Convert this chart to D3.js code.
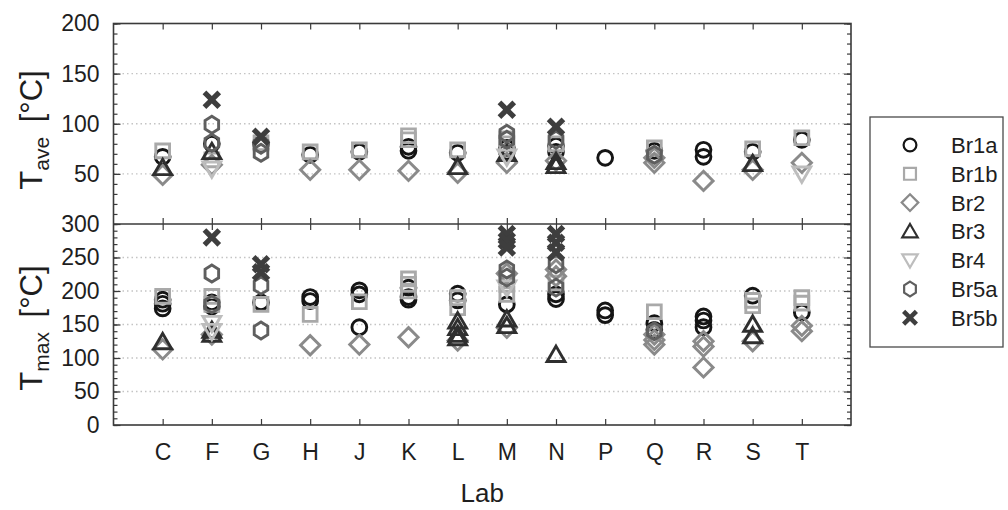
<!DOCTYPE html>
<html><head><meta charset="utf-8">
<script src="https://cdn.jsdelivr.net/npm/d3@7"></script>
<style>body{margin:0;background:#fff} text{font-family:"Liberation Sans",Arial,sans-serif}</style>
</head><body><svg id="c" width="1008" height="510"></svg>
<script>
// ---------- data ----------
const labs = ["C","F","G","H","J","K","L","M","N","P","Q","R","S","T"];
const seriesNames = ["Br1a","Br1b","Br2","Br3","Br4","Br5a","Br5b"];
const aveTicks = [50,100,150,200];
const maxTicks = [0,50,100,150,200,250,300];

// T_ave (top panel), one list of replicates per lab
const br1aAve = [[67],[80],[80],[69],[72],[73,77],[71],[76,72],[78,72],[66],[73],[74,67],[72],[84]];
const br1bAve = [[73],[64],[81],[72],[74],[84,88],[74],[85,80],[80],[],[76],[],[75],[86]];
const br2Ave  = [[49],[59],[],[54],[54],[53],[51],[61],[63],[],[66,61],[43],[54],[61]];
const br3Ave  = [[56],[72],[],[],[],[],[57],[70],[62,58],[],[],[],[60],[]];
const br4Ave  = [[],[55],[],[],[],[],[],[67],[],[],[],[],[],[50]];
const br5aAve = [[],[99,81],[79,71],[],[],[],[],[90,84],[84],[],[69],[],[],[]];
const br5bAve = [[],[124],[87],[],[],[],[],[114],[97],[],[],[],[],[]];

// T_max (bottom panel)
const br1aMax = [[187,181,174],[183,177],[183],[191,185],[201,195,146],[205,191,187],[196,186],[180],[195,188],[171,164],[152,142],[162,156,146],[193],[168]];
const br1bMax = [[192],[192,180],[180],[165],[184],[218,210,200],[190,175],[210,195],[212],[],[169],[],[186,178],[190,182]];
const br2Max  = [[113],[135],[],[119],[120],[131],[126],[226,145],[232,222],[],[135,127,120],[125,117,86],[125],[148,140]];
const br3Max  = [[124],[141,135],[],[],[],[],[155,145,135,130],[158,148],[105],[],[],[],[150,133],[]];
const br4Max  = [[],[152,140],[],[],[],[],[],[205],[],[],[],[],[],[]];
const br5aMax = [[],[226,180],[208,141],[],[],[],[],[232,220],[240,205],[],[140],[],[],[]];
const br5bMax = [[],[280],[240,228],[],[],[],[],[285,275,265],[285,272,258],[],[],[],[],[]];

const aveData = [br1aAve,br1bAve,br2Ave,br3Ave,br4Ave,br5aAve,br5bAve];
const maxData = [br1aMax,br1bMax,br2Max,br3Max,br4Max,br5aMax,br5bMax];

// ---------- styles ----------
const shapes = ["circle","square","diamond","triUp","triDown","hexagon","x"];
const colors = ["#151515","#a9a9a9","#8a8a8a","#2f2f2f","#bdbdbd","#5f5f5f","#3e3e3e"];

function makeType(kind){
  return {draw(ctx, r){
    if(kind==="circle"){ ctx.moveTo(r,0); ctx.arc(0,0,r,0,2*Math.PI); }
    else if(kind==="square"){ const h=r*0.93; ctx.moveTo(-h,-h); ctx.lineTo(h,-h); ctx.lineTo(h,h); ctx.lineTo(-h,h); ctx.closePath(); }
    else if(kind==="diamond"){ const h=r*1.3; ctx.moveTo(0,-h); ctx.lineTo(h,0); ctx.lineTo(0,h); ctx.lineTo(-h,0); ctx.closePath(); }
    else if(kind==="triUp"){ const h=r*1.15; ctx.moveTo(0,-h); ctx.lineTo(h*1.05,h*0.8); ctx.lineTo(-h*1.05,h*0.8); ctx.closePath(); }
    else if(kind==="triDown"){ const h=r*1.15; ctx.moveTo(0,h); ctx.lineTo(h*1.05,-h*0.8); ctx.lineTo(-h*1.05,-h*0.8); ctx.closePath(); }
    else if(kind==="hexagon"){ const h=r*1.15; for(let k=0;k<6;k++){const a=-Math.PI/2+k*Math.PI/3; const px=h*Math.cos(a)*0.92, py=h*Math.sin(a); if(k===0) ctx.moveTo(px,py); else ctx.lineTo(px,py);} ctx.closePath(); }
    else if(kind==="x"){ const h=r*1.25, w=r*0.5; // filled X
      const pts=[[0,-w],[h-w,-h],[h,-h+w],[w,0],[h,h-w],[h-w,h],[0,w],[-h+w,h],[-h,h-w],[-w,0],[-h,-h+w],[-h+w,-h]];
      pts.forEach((p,k)=> k? ctx.lineTo(p[0],p[1]) : ctx.moveTo(p[0],p[1])); ctx.closePath(); }
  }};
}
const types = shapes.map(makeType);

// ---------- layout ----------
const svg = d3.select("#c");
svg.append("rect").attr("width",1008).attr("height",510).attr("fill","#fff");
const L=113.5, R=851, T0=23.5, MID=224, B=425;
const x = d3.scaleLinear().domain([0,15]).range([L,R]);
const yTop = d3.scaleLinear().domain([0,200]).range([MID,T0]);
const yBot = d3.scaleLinear().domain([0,300]).range([B,MID]);
const axisColor="#3a3a3a";
const fontSize=23;

// grid lines
function grid(y, vals){
  svg.append("g").selectAll("line").data(vals).join("line")
    .attr("x1",L).attr("x2",R).attr("y1",d=>y(d)).attr("y2",d=>y(d))
    .attr("stroke","#c4c4c4").attr("stroke-width",1.3).attr("stroke-dasharray","1.5,3");
}
grid(yTop,[50,100,150]);
grid(yBot,[50,100,150,200,250]);

// points
function drawPanel(y, data){
  data.forEach((ser, s)=>{
    const pts=[];
    ser.forEach((vals,i)=>vals.forEach(v=>pts.push({i:i+1, v})));
    svg.append("g").selectAll("path").data(pts).join("path")
      .attr("transform",d=>`translate(${x(d.i)},${y(d.v)})`)
      .attr("d", d3.symbol().type(types[s]).size(7.4))
      .attr("fill", shapes[s]==="x" ? colors[s] : "none")
      .attr("stroke", shapes[s]==="x" ? "none" : colors[s])
      .attr("stroke-width", 2.9);
  });
}
drawPanel(yTop, aveData);
drawPanel(yBot, maxData);

// axes helpers
function styleAxis(g){
  g.select(".domain").remove();
  g.selectAll("line").attr("stroke",axisColor).attr("stroke-width",1.2);
  g.selectAll("text").attr("fill","#1e1e1e").attr("font-size",fontSize).attr("font-family","Liberation Sans, Arial, sans-serif");
}
// Y minor ticks, left & right
[[yTop,d3.range(0,201,10)],[yBot,d3.range(0,301,10)]].forEach(([y,vals])=>{
  svg.append("g").attr("transform",`translate(${L},0)`).call(d3.axisLeft(y).tickValues(vals).tickFormat("").tickSize(-4)).call(styleAxis);
  svg.append("g").attr("transform",`translate(${R},0)`).call(d3.axisRight(y).tickValues(vals).tickFormat("").tickSize(-4)).call(styleAxis);
});
// Y major ticks with labels
svg.append("g").attr("transform",`translate(${L},0)`).call(d3.axisLeft(yTop).tickValues(aveTicks).tickSize(-7).tickPadding(14)).call(styleAxis);
svg.append("g").attr("transform",`translate(${L},0)`).call(d3.axisLeft(yBot).tickValues(maxTicks).tickSize(-7).tickPadding(14)).call(styleAxis);
svg.append("g").attr("transform",`translate(${R},0)`).call(d3.axisRight(yTop).tickValues(aveTicks).tickFormat("").tickSize(-7)).call(styleAxis);
svg.append("g").attr("transform",`translate(${R},0)`).call(d3.axisRight(yBot).tickValues(maxTicks).tickFormat("").tickSize(-7)).call(styleAxis);

// X ticks
const xi = d3.range(1,15);
svg.append("g").attr("transform",`translate(0,${B})`).call(d3.axisBottom(x).tickValues(xi).tickFormat(i=>labs[i-1]).tickSize(-6).tickPadding(19)).call(styleAxis);
svg.append("g").attr("transform",`translate(0,${T0})`).call(d3.axisTop(x).tickValues(xi).tickFormat("").tickSize(-6)).call(styleAxis);
svg.append("g").attr("transform",`translate(0,${MID})`).call(d3.axisTop(x).tickValues(xi).tickFormat("").tickSize(6)).call(styleAxis);
svg.append("g").attr("transform",`translate(0,${MID})`).call(d3.axisBottom(x).tickValues(xi).tickFormat("").tickSize(6)).call(styleAxis);

// frame
svg.append("rect").attr("x",L).attr("y",T0).attr("width",R-L).attr("height",B-T0)
  .attr("fill","none").attr("stroke",axisColor).attr("stroke-width",1.6);
svg.append("line").attr("x1",L).attr("x2",R).attr("y1",MID).attr("y2",MID).attr("stroke",axisColor).attr("stroke-width",1.6);

// titles
function yTitle(cx, cy, sub){
  const t = svg.append("text").attr("transform",`translate(${cx},${cy}) rotate(-90)`)
    .attr("text-anchor","middle").attr("font-size",31).attr("fill","#1e1e1e");
  t.append("tspan").text("T");
  t.append("tspan").attr("font-size",21).attr("dy",7).text(sub);
  t.append("tspan").attr("dy",-7).attr("dx",6).text(" [°C]");
}
yTitle(42, 130, "ave");
yTitle(42, 328, "max");
svg.append("text").attr("x",(L+R)/2).attr("y",502).attr("text-anchor","middle")
  .attr("font-size",26).attr("fill","#1e1e1e").text("Lab");

// legend
const lg = svg.append("g");
lg.append("rect").attr("x",870).attr("y",117).attr("width",133).attr("height",230)
  .attr("fill","#fff").attr("stroke","#4a4a4a").attr("stroke-width",1.3);
seriesNames.forEach((n,s)=>{
  const cy = 145 + s*28.8;
  lg.append("path").attr("transform",`translate(910,${cy})`)
    .attr("d", d3.symbol().type(types[s]).size(6.4))
    .attr("fill", shapes[s]==="x" ? colors[s] : "none")
    .attr("stroke", shapes[s]==="x" ? "none" : colors[s])
    .attr("stroke-width", 2.2);
  lg.append("text").attr("x",951).attr("y",cy).attr("dy","0.36em")
    .attr("font-size",22).attr("fill","#1e1e1e").text(n);
});
</script></body></html>
